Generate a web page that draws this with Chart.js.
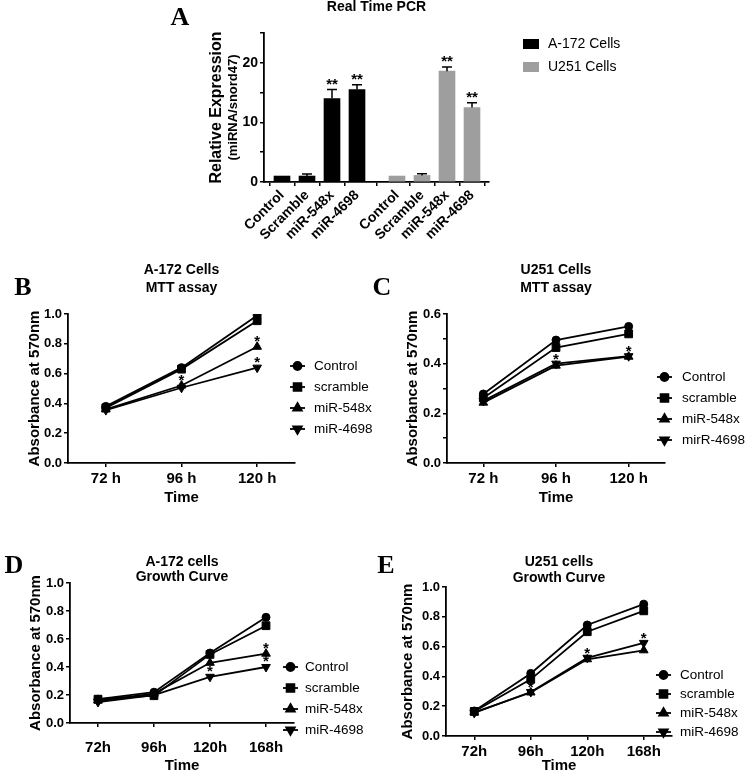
<!DOCTYPE html>
<html>
<head>
<meta charset="utf-8">
<script src="https://cdn.jsdelivr.net/npm/chart.js@4.4.1/dist/chart.umd.min.js"></script>
<style>
  html, body { margin: 0; padding: 0; background: #fff; }
  body { width: 749px; height: 775px; position: relative; overflow: hidden; }
  canvas { position: absolute; }
</style>
</head>
<body>
<canvas id="pcr" style="left:0;top:0" width="749" height="260"></canvas>
<canvas id="mttA172" style="left:0;top:255px" width="385" height="260"></canvas>
<canvas id="mttU251" style="left:370px;top:255px" width="379" height="260"></canvas>
<canvas id="growA172" style="left:0;top:500px" width="385" height="275"></canvas>
<canvas id="growU251" style="left:370px;top:500px" width="379" height="275"></canvas>
<script>
// ---- data ----
const pcrLabels = ['Control', 'Scramble', 'miR-548x', 'miR-4698'];
const pcrA172 = [1.0, 1.0, 14.0, 15.5];
const pcrA172Err = [0, 0.35, 1.5, 0.8];
const pcrU251 = [1.0, 1.1, 18.6, 12.5];
const pcrU251Err = [0, 0.3, 0.7, 0.8];

const seriesNames = ['Control', 'scramble', 'miR-548x', 'miR-4698'];
const seriesNamesC = ['Control', 'scramble', 'miR-548x', 'mirR-4698'];

const mttTimes = ['72 h', '96 h', '120 h'];
const mttA172Control = [0.38, 0.64, 0.99];
const mttA172Scramble = [0.37, 0.63, 0.955];
const mttA172Mir548x = [0.36, 0.52, 0.78];
const mttA172Mir4698 = [0.355, 0.505, 0.64];

const mttU251Control = [0.278, 0.495, 0.55];
const mttU251Scramble = [0.262, 0.465, 0.52];
const mttU251Mir548x = [0.243, 0.392, 0.428];
const mttU251Mir4698 = [0.25, 0.40, 0.43];

const growTimes = ['72h', '96h', '120h', '168h'];
const growA172Control = [0.17, 0.22, 0.50, 0.755];
const growA172Scramble = [0.17, 0.195, 0.49, 0.695];
const growA172Mir548x = [0.16, 0.21, 0.43, 0.495];
const growA172Mir4698 = [0.15, 0.20, 0.33, 0.40];

const growU251Control = [0.168, 0.42, 0.745, 0.885];
const growU251Scramble = [0.165, 0.38, 0.70, 0.84];
const growU251Mir548x = [0.158, 0.292, 0.515, 0.575];
const growU251Mir4698 = [0.155, 0.295, 0.525, 0.625];

// significance marks: [dataset, point]
const sigPcr = [[0, 2], [0, 3], [1, 2], [1, 3]];
const sigMttA172 = [[2, 1], [2, 2], [3, 2]];
const sigMttU251 = [[3, 1], [3, 2]];
const sigGrowA172 = [[3, 2], [2, 3], [3, 3]];
const sigGrowU251 = [[3, 1], [3, 2], [3, 3]];

Chart.defaults.font.family = '"Liberation Sans", Arial, sans-serif';
Chart.defaults.color = '#000';

const SANS = '"Liberation Sans", Arial, sans-serif';
const SERIF = '"Liberation Serif", "Times New Roman", serif';
const pointStyles = ['circle', 'rect', 'triangle', 'triangle'];
const pointRots = [0, 0, 0, 180];
const pointSizes = [4, 5.5, 5, 5];

// titles, panel letters, stars, error bars and the side legend
const decor = {
  id: 'decor',
  afterDatasetsDraw(chart, args, o) {
    const ctx = chart.ctx;
    const ys = chart.scales.y;
    ctx.save();
    ctx.fillStyle = '#000';
    ctx.strokeStyle = '#000';
    if (o.errors) {
      ctx.lineWidth = 1.5;
      o.errors.forEach((errs, d) => {
        chart.getDatasetMeta(d).data.forEach((bar, i) => {
          if (!errs[i]) return;
          const v = chart.data.datasets[d].data[i].y;
          const yt = ys.getPixelForValue(v + errs[i]);
          ctx.beginPath();
          ctx.moveTo(bar.x, bar.y);
          ctx.lineTo(bar.x, yt);
          ctx.moveTo(bar.x - 5, yt);
          ctx.lineTo(bar.x + 5, yt);
          ctx.stroke();
        });
      });
    }
    if (o.stars) {
      ctx.font = 'bold 15px ' + SANS;
      ctx.textAlign = 'center';
      ctx.textBaseline = 'alphabetic';
      o.stars.forEach(([d, i]) => {
        const el = chart.getDatasetMeta(d).data[i];
        let y = el.y;
        if (o.errors) {
          const v = chart.data.datasets[d].data[i].y;
          y = ys.getPixelForValue(v + (o.errors[d][i] || 0));
        }
        ctx.fillText(o.starText, el.x, y - o.starGap + 9);
      });
    }
    ctx.restore();
  },
  afterDraw(chart, args, o) {
    const ctx = chart.ctx, ca = chart.chartArea;
    ctx.save();
    ctx.fillStyle = '#000';
    ctx.strokeStyle = '#000';
    ctx.textAlign = 'center';
    ctx.textBaseline = 'middle';
    ctx.font = 'bold 26px ' + SERIF;
    ctx.fillText(o.letter, o.letterX, o.letterY);

    ctx.font = 'bold 14px ' + SANS;
    const cx = (ca.left + ca.right) / 2;
    o.title.forEach((t, i) => ctx.fillText(t, cx, o.titleY + i * o.titleGap));

    if (o.yTitle) {
      o.yTitle.forEach(t => {
        ctx.save();
        ctx.translate(t.x, (ca.top + ca.bottom) / 2);
        ctx.rotate(-Math.PI / 2);
        ctx.font = 'bold ' + t.size + 'px ' + SANS;
        ctx.fillText(t.text, 0, 0);
        ctx.restore();
      });
    }

    const lg = o.legend;
    ctx.font = lg.size + 'px ' + SANS;
    ctx.textAlign = 'left';
    chart.data.datasets.forEach((ds, k) => {
      const x = ca.right + lg.dx;
      const y = ca.top + lg.dy + k * lg.gap;
      if (lg.box) {
        ctx.fillStyle = ds.backgroundColor;
        ctx.fillRect(x, y - 5, 16, 10);
      } else {
        ctx.lineWidth = 1.8;
        ctx.beginPath();
        ctx.moveTo(x, y);
        ctx.lineTo(x + 15, y);
        ctx.stroke();
        Chart.helpers.drawPoint(ctx, {
          pointStyle: ds.pointStyle, rotation: ds.pointRotation,
          radius: ds.pointRadius, borderWidth: 1
        }, x + 7.5, y);
      }
      ctx.fillStyle = '#000';
      ctx.fillText(ds.label, x + lg.textDx, y);
    });
    ctx.restore();
  }
};

// ---- panel A: Real Time PCR ----
const groupGap = 0.6;
const barX = (g, i) => g * (pcrLabels.length + groupGap) + i;

new Chart(document.getElementById('pcr'), {
  type: 'bar',
  data: {
    datasets: [
      { label: 'A-172 Cells', data: pcrA172.map((v, i) => ({ x: barX(0, i), y: v })), backgroundColor: '#000' },
      { label: 'U251 Cells', data: pcrU251.map((v, i) => ({ x: barX(1, i), y: v })), backgroundColor: '#9e9e9e' }
    ]
  },
  options: {
    responsive: false,
    animation: false,
    layout: { padding: { left: 0, top: 33, right: 260, bottom: 8 } },
    datasets: { bar: { barThickness: 16, grouped: false } },
    plugins: {
      legend: { display: false },
      tooltip: { enabled: false },
      decor: {
        letter: 'A', letterX: 180, letterY: 18,
        title: ['Real Time PCR'], titleY: 7, titleGap: 0,
        yTitle: [
          { text: 'Relative Expression', size: 16, x: 217 },
          { text: '(miRNA/snord47)', size: 13, x: 233 }
        ],
        errors: [pcrA172Err, pcrU251Err],
        stars: sigPcr, starText: '**', starGap: 10,
        legend: { box: true, size: 14, dx: 34, dy: 11, gap: 23, textDx: 25 }
      }
    },
    scales: {
      x: {
        type: 'linear', min: -0.72, max: 8.28, offset: false,
        afterBuildTicks: s => {
          s.ticks = [0, 1].flatMap(g => pcrLabels.map((_, i) => ({ value: barX(g, i) })));
        },
        afterFit: s => { s.height = 70; },
        ticks: {
          autoSkip: false, minRotation: 45, maxRotation: 45, padding: 1,
          font: { size: 14, weight: 'bold' },
          callback: (v, i) => pcrLabels[i % pcrLabels.length]
        },
        grid: { drawOnChartArea: false, tickLength: 4, color: '#000', lineWidth: 1.5 },
        border: { color: '#000', width: 1.8 }
      },
      y: {
        min: 0, max: 25,
        afterFit: s => { s.width = 264; },
        ticks: {
          stepSize: 5, padding: 2,
          font: { size: 14, weight: 'bold' },
          callback: v => (v % 10 === 0 ? v : '')
        },
        grid: { drawOnChartArea: false, tickLength: 4, color: '#000', lineWidth: 1.5 },
        border: { color: '#000', width: 1.8 }
      }
    }
  },
  plugins: [decor]
});

// ---- line panels B-E ----
function lineChart(id, p) {
  return new Chart(document.getElementById(id), {
    type: 'line',
    data: {
      labels: p.labels,
      datasets: p.series.map((s, k) => ({
        label: p.names[k],
        data: s,
        borderColor: '#000',
        backgroundColor: '#000',
        borderWidth: 1.8,
        pointStyle: pointStyles[k],
        pointRotation: pointRots[k],
        pointRadius: pointSizes[k],
        pointBorderWidth: 1
      }))
    },
    options: {
      responsive: false,
      animation: false,
      layout: { padding: p.padding },
      plugins: {
        legend: { display: false },
        tooltip: { enabled: false },
        decor: p.decor
      },
      scales: {
        x: {
          offset: true,
          afterFit: s => { s.height = p.xh; },
          ticks: { padding: p.xPad, font: { size: 15, weight: 'bold' } },
          grid: { drawOnChartArea: false, tickLength: 4, color: '#000', lineWidth: 1.5 },
          border: { color: '#000', width: 1.8 },
          title: {
            display: true, text: 'Time',
            font: { size: 15, weight: 'bold' },
            padding: { top: 0, bottom: p.timePad }
          }
        },
        y: {
          min: 0, max: p.yMax,
          afterFit: s => { s.width = p.yw; },
          ticks: {
            stepSize: 0.1, padding: 2,
            font: { size: 13, weight: 'bold' },
            callback: v => (Math.round(v * 10) % 2 === 0 ? v.toFixed(1) : '')
          },
          grid: { drawOnChartArea: false, tickLength: 4, color: '#000', lineWidth: 1.5 },
          border: { color: '#000', width: 1.8 },
          title: {
            display: true, text: 'Absorbance at 570nm',
            font: { size: 15, weight: 'bold' },
            padding: { top: 0, bottom: 0 }
          }
        }
      }
    },
    plugins: [decor]
  });
}

lineChart('mttA172', {
  labels: mttTimes,
  names: seriesNames,
  series: [mttA172Control, mttA172Scramble, mttA172Mir548x, mttA172Mir4698],
  yMax: 1.0,
  padding: { left: 26, top: 59, right: 90, bottom: 2 },
  yw: 42, xh: 50, xPad: 3, timePad: 6,
  decor: {
    letter: 'B', letterX: 23, letterY: 33,
    title: ['A-172 Cells', 'MTT assay'], titleY: 15, titleGap: 18,
    stars: sigMttA172, starText: '*', starGap: 10,
    legend: { size: 13.5, dx: -5, dy: 52, gap: 21, textDx: 24 }
  }
});

lineChart('mttU251', {
  labels: mttTimes,
  names: seriesNamesC,
  series: [mttU251Control, mttU251Scramble, mttU251Mir548x, mttU251Mir4698],
  yMax: 0.6,
  padding: { left: 34, top: 59, right: 84, bottom: 2 },
  yw: 43, xh: 50, xPad: 3, timePad: 6,
  decor: {
    letter: 'C', letterX: 12, letterY: 33,
    title: ['U251 Cells', 'MTT assay'], titleY: 15, titleGap: 18,
    stars: sigMttU251, starText: '*', starGap: 9,
    legend: { size: 13.5, dx: -8, dy: 63, gap: 21, textDx: 25 }
  }
});

lineChart('growA172', {
  labels: growTimes,
  names: seriesNames,
  series: [growA172Control, growA172Scramble, growA172Mir548x, growA172Mir4698],
  yMax: 1.0,
  padding: { left: 27, top: 83, right: 91, bottom: 0 },
  yw: 43, xh: 52, xPad: 12, timePad: 0,
  decor: {
    letter: 'D', letterX: 14, letterY: 66,
    title: ['A-172 cells', 'Growth Curve'], titleY: 62, titleGap: 15,
    stars: sigGrowA172, starText: '*', starGap: 10,
    legend: { size: 13.5, dx: -11, dy: 84, gap: 21, textDx: 22 }
  }
});

lineChart('growU251', {
  labels: growTimes,
  names: seriesNames,
  series: [growU251Control, growU251Scramble, growU251Mir548x, growU251Mir4698],
  yMax: 1.0,
  padding: { left: 29, top: 87, right: 77, bottom: 0 },
  yw: 47, xh: 39, xPad: 3, timePad: 0,
  decor: {
    letter: 'E', letterX: 16, letterY: 66,
    title: ['U251 cells', 'Growth Curve'], titleY: 62, titleGap: 16,
    stars: sigGrowU251, starText: '*', starGap: 9,
    legend: { size: 13.5, dx: -16, dy: 88, gap: 19, textDx: 24 }
  }
});
</script>
</body>
</html>
